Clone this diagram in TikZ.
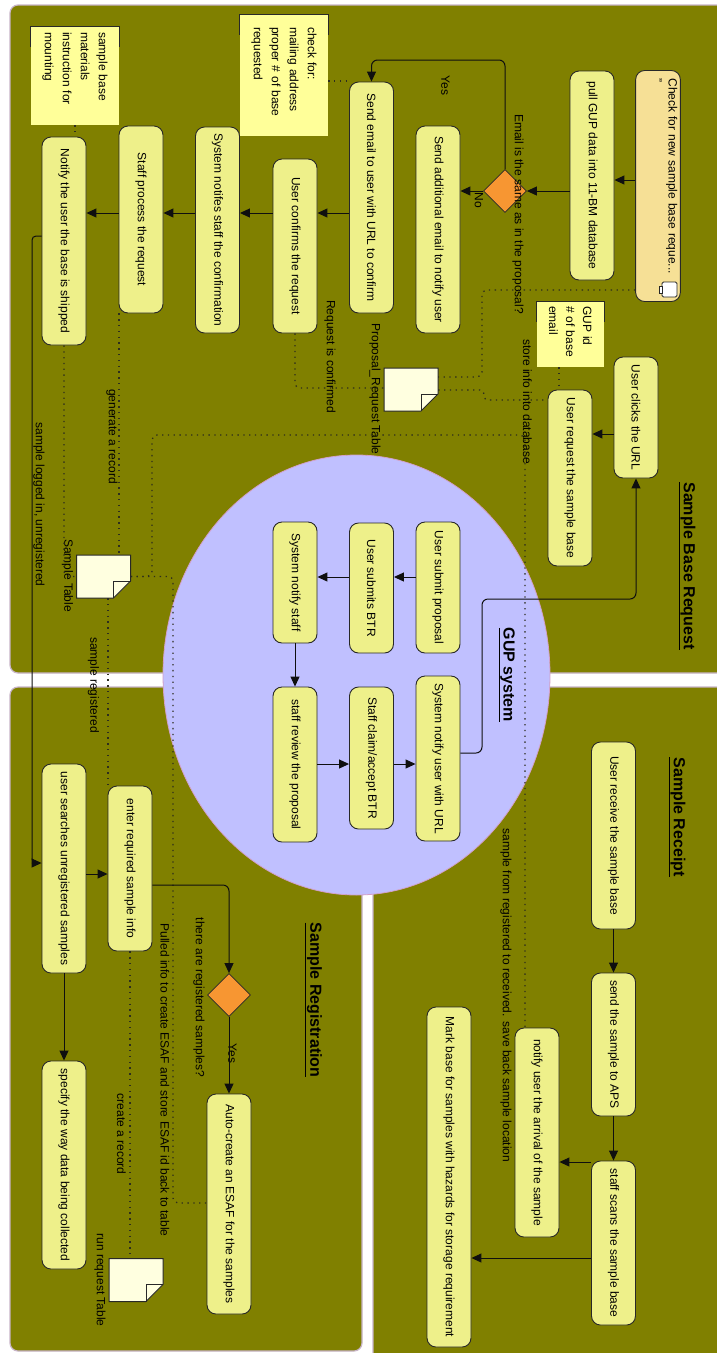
\documentclass[tikz,border=0pt]{standalone}
\usepackage{fontspec}
\setmainfont{Liberation Sans}
\usetikzlibrary{shapes.geometric,arrows.meta,calc}
\definecolor{olivebg}{RGB}{128,128,0}
\definecolor{panelline}{RGB}{200,180,200}
\definecolor{ellfill}{RGB}{192,192,255}
\definecolor{ellline}{RGB}{210,160,200}
\definecolor{boxfill}{RGB}{238,240,138}
\definecolor{checkfill}{RGB}{246,224,150}
\definecolor{notefill}{RGB}{255,255,153}
\definecolor{storefill}{RGB}{255,255,224}
\definecolor{decfill}{RGB}{247,150,50}
\definecolor{linec}{RGB}{40,40,40}
\definecolor{arrc}{RGB}{15,15,15}
\definecolor{dotc}{RGB}{45,45,30}
\newcommand{\boxfont}{\fontsize{12}{14}\selectfont}
\newcommand{\checkfont}{\fontsize{12}{15}\selectfont}
\newcommand{\notefont}{\fontsize{12}{18}\selectfont}
\newcommand{\notefontb}{\fontsize{12}{17}\selectfont}
\newcommand{\titlefont}{\fontsize{16}{19}\selectfont\bfseries}
\tikzset{
  box/.style={rotate=-90, draw=linec, fill=boxfill, line width=0.9pt, rounded corners=9pt, minimum height=44pt, inner sep=3pt, font=\boxfont},
  note/.style={rotate=-90, fill=notefill, inner sep=0pt, align=left},
  lbl/.style={rotate=-90, font=\boxfont, inner sep=1pt},
  ttl/.style={rotate=-90, font=\titlefont, inner sep=1pt},
  arr/.style={draw=arrc, line width=1pt, -{Triangle[length=10pt,width=9pt]}},
  dotl/.style={draw=dotc, line width=1.3pt, dash pattern=on 1.3pt off 4.5pt},
  dec/.style={diamond, aspect=1, fill=decfill, draw=linec, line width=0.8pt, minimum width=43pt, minimum height=43pt, inner sep=0pt},
  storeb/.style={minimum width=54pt, minimum height=43pt, inner sep=0pt},
  notebr/.style={draw=linec, line width=1.2pt},
  panel/.style={fill=olivebg, draw=panelline, line width=1.2pt, rounded corners=8pt},
  storeicon/.pic={
    \draw[fill=storefill, draw=linec, line width=1pt] (-27,-21.5) -- (27,-21.5) -- (27,4.5) -- (10,21.5) -- (-27,21.5) -- cycle;
    \draw[linec, line width=1pt] (10,21.5) -- (10,4.5) -- (27,4.5);
  }
}
\begin{document}
\begin{tikzpicture}[x=1pt,y=-1pt]
\useasboundingbox (0,0) rectangle (717,1353);
\fill[white] (0,0) rectangle (717,1353);
\clip (0,0) rectangle (717,1353);
% panels
\draw[panel] (10,5) rectangle (730,673);
\draw[panel] (10,687) rectangle (362,1351);
\draw[panel] (373,687) rectangle (730,1365);
% GUP ellipse
\draw[fill=ellfill, draw=ellline, line width=0.8pt] (356.5,675) ellipse [x radius=193.5pt, y radius=220pt];
% titles
\node[ttl] (t1) at (687,566) {\underline{Sample Base Request}};
\node[ttl] (t2) at (677,817) {\underline{Sample Receipt}};
\node[ttl] (t3) at (313.5,1000) {\underline{Sample Registration}};
\node[ttl] (t4) at (506.5,675) {\underline{GUP system}};
% Sample Base Request nodes
\node[box, minimum width=231pt, fill=checkfill, align=left, text width=215pt, font=\checkfont] (check) at (658,186) {Check for new sample base reque...\\{"}\\\mbox{}};
\draw[linec, fill=white, line width=0.8pt, rounded corners=1.5pt] (662,282) rectangle (677,297);
\draw[linec, fill=white, line width=0.8pt] (659,286) rectangle (662,293);
\node[box, minimum width=209pt] (pull) at (592,175.5) {pull GUP data into 11-BM database};
\node[dec] (d1) at (505,191) {};
\node[box, minimum width=207pt] (addl) at (438,229.5) {Send additional email to notify user};
\node[box, minimum width=231pt] (sendurl) at (371.5,197.5) {Send email to user with URL to confirm};
\node[box, minimum width=174pt] (confirm) at (295,246) {User confirms the request};
\node[box, minimum width=206pt] (sysnot) at (217.5,230) {System notifes staff the confirmation};
\node[box, minimum width=187pt] (process) at (141,219.5) {Staff process the request};
\node[box, minimum width=208pt] (shipped) at (64,241) {Notify the user the base is shipped};
\node[box, minimum width=121pt] (clicks) at (636,417.5) {User clicks the URL};
\node[box, minimum width=176pt] (reqbase) at (570,478) {User request the sample base};
% notes
\node[note, font=\notefont, minimum width=121pt, minimum height=88pt, text width=97pt] (n1) at (284,75.5) {check for:\\mailing address\\proper \# of base\\requested};
\node[note, font=\notefont, minimum width=98pt, minimum height=88pt, text width=88pt] (n2) at (75,76) {sample base\\materials\\instruction for\\mounting};
\node[note, font=\notefontb, minimum width=65pt, minimum height=67pt, text width=57pt] (n3) at (570.5,334.5) {GUP id\\\# of base\\email};
\foreach \n in {n1,n2,n3}{
  \draw[notebr] ($(\n.south west)!20pt!(\n.south east)$) -- (\n.south west) -- (\n.north west) -- ($(\n.north west)!20pt!(\n.north east)$);
}
% stores
\node[storeb] (prt) at (411,389.5) {};
\pic at (prt.center) {storeicon};
\node[storeb] (stable) at (103.5,576.5) {};
\pic at (stable.center) {storeicon};
\node[storeb] (runreq) at (136,1280) {};
\pic at (runreq.center) {storeicon};
% GUP nodes
\node[box, minimum width=131pt] (submit) at (438,587.5) {User submit proposal};
\node[box, minimum width=130pt] (btr) at (371.5,588) {User submits BTR};
\node[box, minimum width=121pt] (notstaff) at (295,582.5) {System notify staff};
\node[box, minimum width=155pt] (review) at (295,764.5) {staff review the proposal};
\node[box, minimum width=142pt] (claim) at (371.5,758) {Staff claim/accept BTR};
\node[box, minimum width=165pt] (noturl) at (438,758.5) {System notify user with URL};
% Registration nodes
\node[box, minimum width=209pt] (search) at (64,868.5) {user searches unregistered samples};
\node[box, minimum width=165pt] (enter) at (130,868.5) {enter required sample info};
\node[dec] (d2) at (229,995) {};
\node[box, minimum width=220pt] (auto) at (229,1204) {Auto-create an ESAF for the samples};
\node[box, minimum width=208pt] (specify) at (64,1165) {specify the way data being collected};
% Receipt nodes
\node[box, minimum width=187pt] (receive) at (613.5,835.5) {User receive the sample base};
\node[box, minimum width=143pt] (send) at (613.5,1044.5) {send the sample to APS};
\node[box, minimum width=164pt] (scan) at (613.5,1243) {staff scans the sample base};
\node[box, minimum width=209pt] (arrival) at (537,1132.5) {notify user the arrival of the sample};
\node[box, minimum width=340pt] (mark) at (449,1177) {Mark base for samples with hazards for storage requirement};
% labels
\node[lbl] (l1) at (518,214) {Email is the same as in the proposal?};
\node[lbl] (l2) at (445.5,85.5) {Yes};
\node[lbl] (l3) at (479,200) {No};
\node[lbl] (l4) at (375,389) {Proposal\_Request Table};
\node[lbl] (l5) at (330,356.5) {Request is confirmed};
\node[lbl] (l6) at (527.5,401.5) {store info into database};
\node[lbl] (l7) at (112,436.5) {generate a record};
\node[lbl] (l8) at (67.5,575.5) {Sample Table};
\node[lbl] (l9) at (39,504.5) {sample logged in, unregistered};
\node[lbl] (l10) at (93.5,685) {sample registered};
\node[lbl] (l11) at (506,995.5) {sample from registered to received. save back sample location};
\node[lbl] (l12) at (199,997.5) {there are registered samples?};
\node[lbl] (l13) at (232.5,1053.5) {Yes};
\node[lbl] (l14) at (165,1080) {Pulled info to create ESAF and store ESAF id back to table};
\node[lbl] (l15) at (121.5,1134) {create a record};
\node[lbl] (l16) at (100,1280) {run request Table};
% dotted connectors
\draw[dotl] (n1.north |- 0,81) -- (sendurl.south |- 0,81);
\draw[dotl, rounded corners=5pt] (check.south |- 0,290) -| (482,377) -- (prt.east |- 0,377);
\draw[dotl, rounded corners=4pt] (prt.east |- 0,390) -| (484,400) -- (reqbase.south |- 0,400);
\draw[dotl, rounded corners=5pt] (confirm.east) |- (prt.west |- 0,388);
\draw[dotl] (n3.east -| 559,0) -- (reqbase.west -| 559,0);
\draw[dotl] (process.east -| 119,0) -- (stable.north -| 119,0);
\draw[dotl, rounded corners=5pt] (shipped.east) |- (stable.west);
\draw[dotl, rounded corners=5pt] (stable.east) -- (152,576.5) |- (525,435) -- (arrival.west -| 525,0);
\draw[dotl, rounded corners=5pt] (stable.east) -| (173,1203) -- (auto.south |- 0,1203);
\draw[dotl] (stable.south -| 108,0) -- (enter.west -| 108,0);
\draw[dotl] (enter.east) -- (runreq.north -| enter.east);
\draw[dotl] (n2.east -| 75,0) -- (shipped.west -| 75,0);
% solid connectors
\draw[arr] (check.south |- 0,180) -- (pull.north |- 0,180);
\draw[arr] (pull.south |- 0,191) -- (d1.east);
\draw[arr, rounded corners=6pt] (d1.north) |- (sendurl.west |- 0,60) -- (sendurl.west);
\draw[arr] (d1.west) -- (addl.north |- d1.west);
\draw[arr] (sendurl.south |- 0,213) -- (confirm.north |- 0,213);
\draw[arr] (confirm.south |- 0,213) -- (sysnot.north |- 0,213);
\draw[arr] (sysnot.south |- 0,213) -- (process.north |- 0,213);
\draw[arr] (process.south |- 0,213) -- (shipped.north |- 0,213);
\draw[arr, rounded corners=4pt] (shipped.south |- 0,236) -| (32,863) -- (search.south |- 0,863);
\draw[arr] (clicks.south |- 0,434) -- (reqbase.north |- 0,434);
\draw[arr, rounded corners=6pt] (noturl.north |- 0,753) -| (482,599) -| (clicks.east);
\draw[arr] (submit.south |- 0,577) -- (btr.north |- 0,577);
\draw[arr] (btr.south |- 0,577) -- (notstaff.north |- 0,577);
\draw[arr] (notstaff.east) -- (review.west);
\draw[arr] (review.north |- 0,764) -- (claim.south |- 0,764);
\draw[arr] (claim.north |- 0,764) -- (noturl.south |- 0,764);
\draw[arr] (search.north |- 0,874) -- (enter.south |- 0,874);
\draw[arr, rounded corners=6pt] (enter.north |- 0,885) -| (d2.north);
\draw[arr] (d2.south) -- (auto.west);
\draw[arr] (search.east) -- (specify.west);
\draw[arr] (receive.east) -- (send.west);
\draw[arr] (send.east) -- (scan.west);
\draw[arr] (scan.south |- 0,1162) -- (arrival.north |- 0,1162);
\draw[arr] (scan.south |- 0,1258) -- (mark.north |- 0,1258);
\end{tikzpicture}
\end{document}
